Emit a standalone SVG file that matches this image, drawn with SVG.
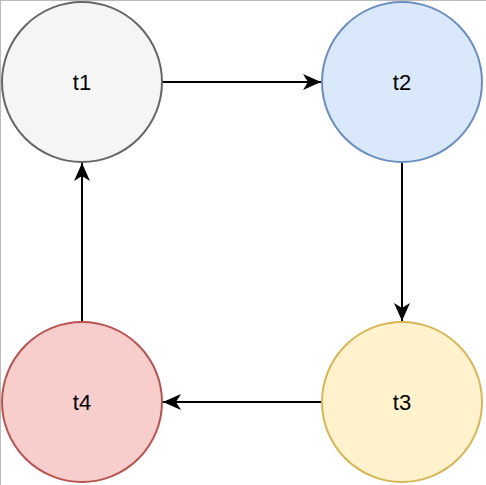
<svg xmlns="http://www.w3.org/2000/svg" width="486" height="485" viewBox="0 0 486 485">
<style>
.lbl{font-family:"Liberation Sans",Arial,sans-serif;font-size:22px;fill:#000;text-anchor:middle;dominant-baseline:central}
.edge{stroke:#000;stroke-width:2;fill:none}
circle{stroke-width:2}
</style>
<defs>
<marker id="arr" viewBox="0 0 18 16" refX="18" refY="8" markerWidth="18" markerHeight="16" markerUnits="userSpaceOnUse" orient="auto">
<path d="M0,0 L18,8 L0,16 L5,8 Z" fill="#000"/>
</marker>
</defs>
<rect width="486" height="485" fill="#fff"/>
<line x1="0.5" y1="0" x2="0.5" y2="485" stroke="#bbb"/>
<line x1="0" y1="0.5" x2="486" y2="0.5" stroke="#bbb"/>
<g id="connectors">
<line class="edge" x1="162" y1="82" x2="321" y2="82" marker-end="url(#arr)"/>
<line class="edge" x1="402" y1="162" x2="402" y2="321" marker-end="url(#arr)"/>
<line class="edge" x1="322" y1="402" x2="163" y2="402" marker-end="url(#arr)"/>
<line class="edge" x1="82" y1="322" x2="82" y2="163" marker-end="url(#arr)"/>
</g>
<g id="t1"><circle cx="82" cy="82" r="80" fill="#f5f5f5" stroke="#666666"/><text class="lbl" x="82" y="82">t1</text></g>
<g id="t2"><circle cx="402" cy="82" r="80" fill="#dae8fc" stroke="#6c8ebf"/><text class="lbl" x="402" y="82">t2</text></g>
<g id="t3"><circle cx="402" cy="402" r="80" fill="#fff2cc" stroke="#d6b656"/><text class="lbl" x="402" y="402">t3</text></g>
<g id="t4"><circle cx="82" cy="402" r="80" fill="#f8cecc" stroke="#b85450"/><text class="lbl" x="82" y="402">t4</text></g>
</svg>
